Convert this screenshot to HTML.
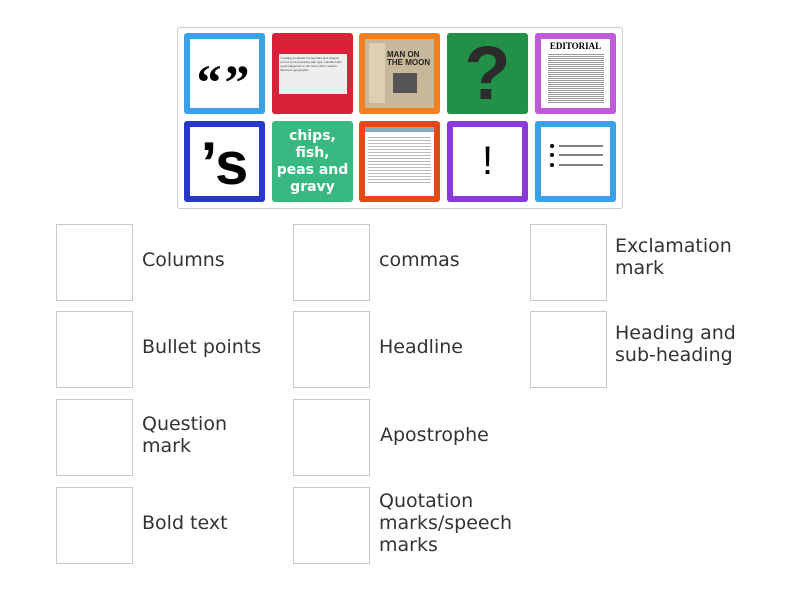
<!DOCTYPE html>
<html><head><meta charset="utf-8"><style>
body{margin:0;width:800px;height:600px;background:#fff;position:relative;overflow:hidden;font-family:"Liberation Sans","DejaVu Sans",sans-serif}
.panel{position:absolute;left:177px;top:27px;width:444px;height:180px;border:1px solid #ccc;border-radius:3px;background:#fff}
.t{position:absolute;width:81px;height:81px;border-radius:3px;box-sizing:border-box;overflow:hidden;display:flex;align-items:center;justify-content:center}
.w{background:#fff;position:absolute;left:6px;top:6px;right:6px;bottom:6px;display:flex;align-items:center;justify-content:center;color:#000}
.b{position:absolute;width:77px;height:77px;border:1px solid #c8c8c8;box-sizing:border-box}
.l{position:absolute;color:#333;line-height:22px;display:flex;align-items:center;height:77px;font-family:"DejaVu Sans","Liberation Sans",sans-serif;font-size:19px;margin-top:-3px}
</style></head><body>
<div class="panel"></div>
<div class="t" style="left:184px;top:33px;background:#3aa0e8"><div class="w" style="font-size:50px;font-family:'Liberation Serif',serif;font-weight:bold;padding-top:16px;letter-spacing:3px">“”</div></div>
<div class="t" style="left:272px;top:33px;background:#d8223a"><div style="width:68px;height:40px;background:#eee;font-size:3px;line-height:4px;padding:2px;box-sizing:border-box;color:#444">Creating emphasis in important and integral part of communicating with type. Handled with great judgement it can help inform readers. Bold text typographic</div></div>
<div class="t" style="left:359px;top:33px;background:#f08020"><div style="position:absolute;left:6px;top:6px;right:6px;bottom:6px;background:#c8b89a"><div style="position:absolute;left:22px;top:12px;font-size:8px;font-weight:bold;color:#222;line-height:8px">MAN ON THE MOON</div><div style="position:absolute;left:4px;top:4px;width:16px;height:60px;background:#ddd0b0"></div><div style="position:absolute;left:28px;top:34px;width:24px;height:20px;background:#555"></div></div></div>
<div class="t" style="left:447px;top:33px;background:#239048;color:#2b2b2b;font-size:76px;line-height:81px;font-weight:bold;font-family:'Liberation Sans',sans-serif">?</div>
<div class="t" style="left:535px;top:33px;background:#c05ad8"><div class="w" style="flex-direction:column;justify-content:flex-start;padding-top:2px"><div style="font-family:'Liberation Serif',serif;font-weight:bold;font-size:9px">EDITORIAL</div><div style="width:56px;height:50px;margin-top:2px;background:repeating-linear-gradient(#fff 0 1px,#999 1px 2px)"></div></div></div>
<div class="t" style="left:184px;top:121px;background:#2638c8"><div class="w" style="font-size:60px;font-weight:bold;font-family:'Liberation Sans',sans-serif;padding-top:4px">’s</div></div>
<div class="t" style="left:272px;top:121px;background:#3ab882;color:#fff;font-weight:bold;font-size:14px;line-height:17px;text-align:center;font-family:'DejaVu Sans',sans-serif">chips,<br>fish,<br>peas and<br>gravy</div>
<div class="t" style="left:359px;top:121px;background:#e84818"><div style="position:absolute;left:6px;top:6px;right:6px;bottom:6px;background:#fff;border-top:5px solid #8ab"><div style="margin:3px;height:50px;background:repeating-linear-gradient(#fff 0 2px,#bbb 2px 3px)"></div></div></div>
<div class="t" style="left:447px;top:121px;background:#8a3ad8"><div class="w" style="font-size:40px">!</div></div>
<div class="t" style="left:535px;top:121px;background:#3aa0e8"><div class="w"><svg width="69" height="69"><g fill="#000"><circle cx="11" cy="19" r="2"/><circle cx="11" cy="28" r="2"/><circle cx="11" cy="38" r="2"/></g><g stroke="#000" stroke-width="1"><line x1="18" y1="19" x2="62" y2="19"/><line x1="18" y1="28" x2="62" y2="28"/><line x1="18" y1="38" x2="62" y2="38"/></g></svg></div></div>

<div class="b" style="left:56px;top:224px"></div><div class="l" style="left:142px;top:224px">Columns</div>
<div class="b" style="left:56px;top:311px"></div><div class="l" style="left:142px;top:311px">Bullet points</div>
<div class="b" style="left:56px;top:399px"></div><div class="l" style="left:142px;top:399px">Question<br>mark</div>
<div class="b" style="left:56px;top:487px"></div><div class="l" style="left:142px;top:487px">Bold text</div>
<div class="b" style="left:293px;top:224px"></div><div class="l" style="left:379px;top:224px">commas</div>
<div class="b" style="left:293px;top:311px"></div><div class="l" style="left:379px;top:311px">Headline</div>
<div class="b" style="left:293px;top:399px"></div><div class="l" style="left:380px;top:399px">Apostrophe</div>
<div class="b" style="left:293px;top:487px"></div><div class="l" style="left:379px;top:487px">Quotation<br>marks/speech<br>marks</div>
<div class="b" style="left:530px;top:224px"></div><div class="l" style="left:615px;top:221px">Exclamation<br>mark</div>
<div class="b" style="left:530px;top:311px"></div><div class="l" style="left:615px;top:308px">Heading and<br>sub-heading</div>
</body></html>
